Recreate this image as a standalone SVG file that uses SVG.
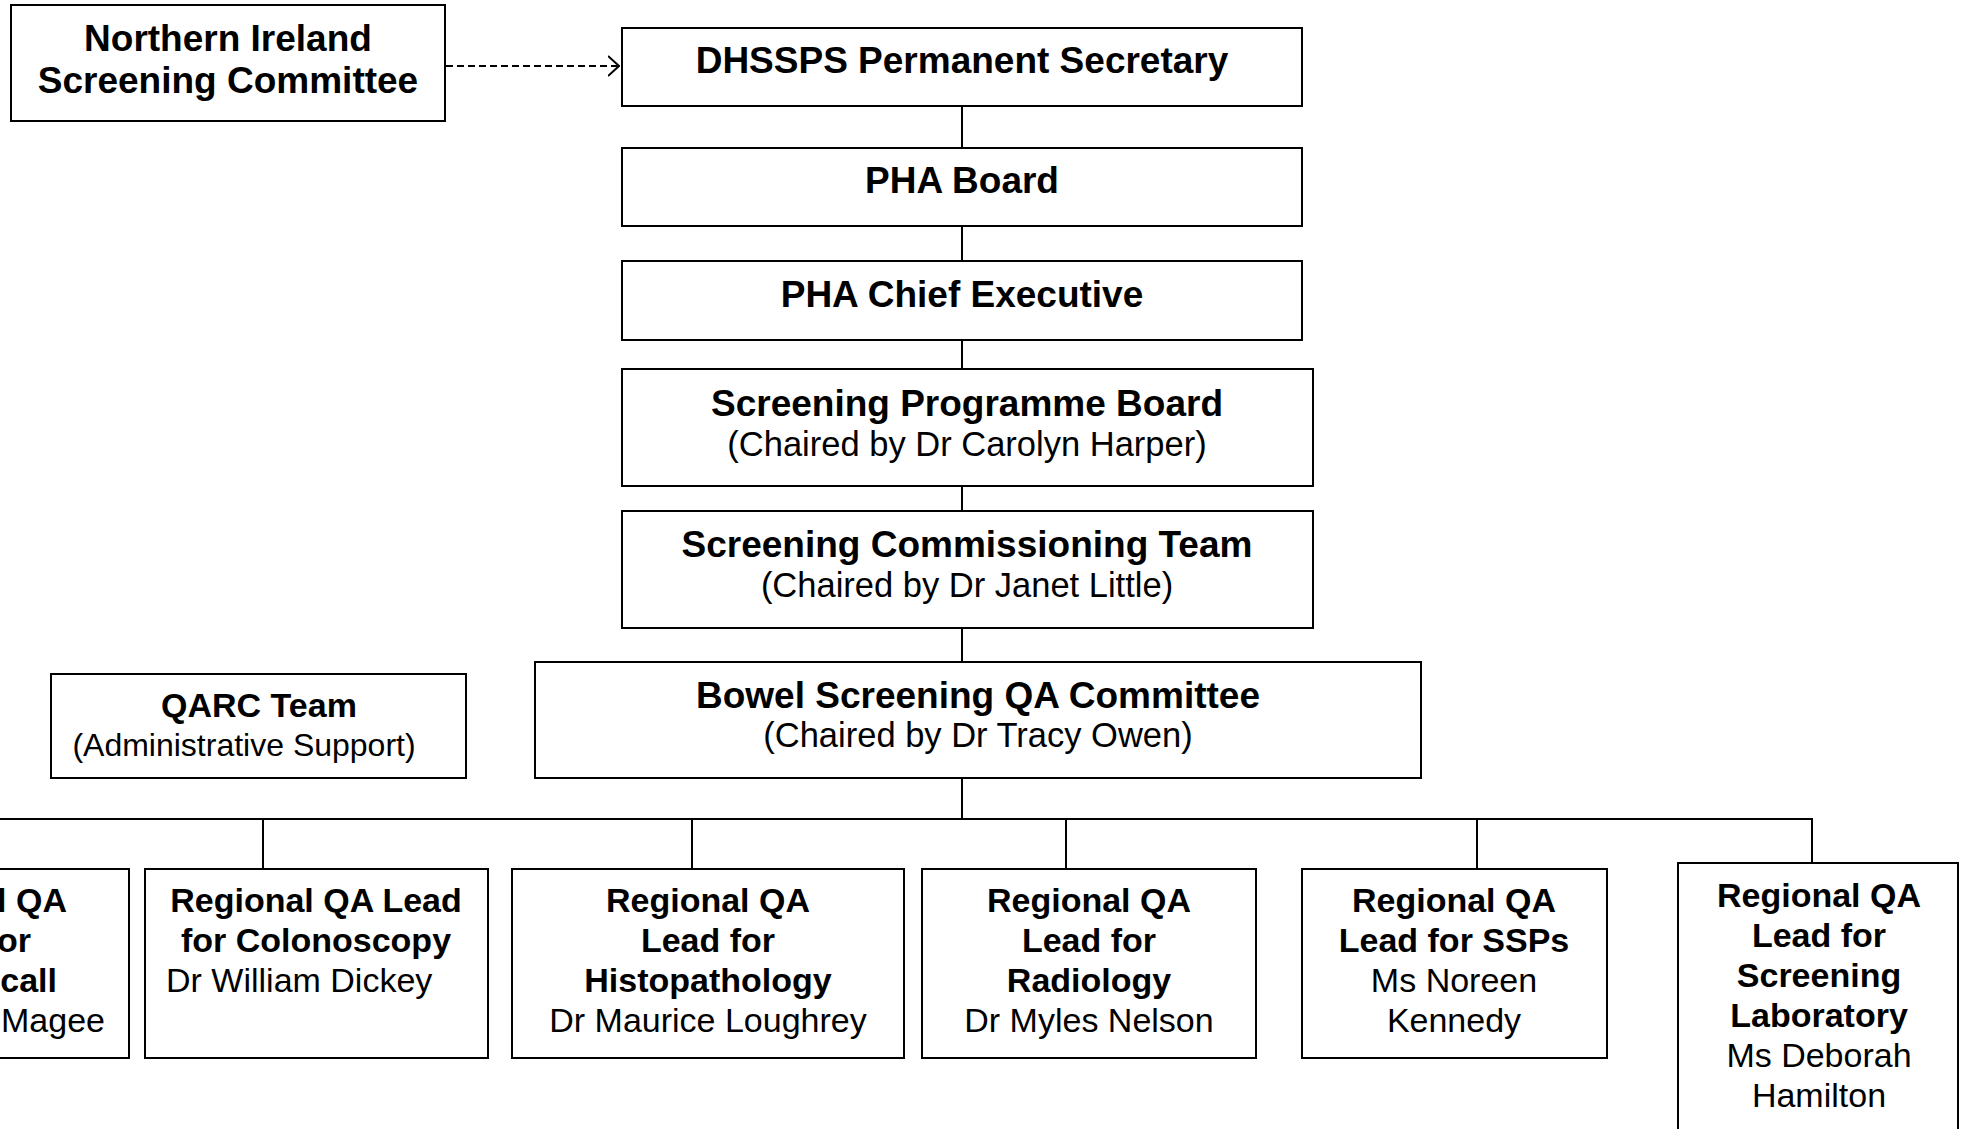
<svg xmlns="http://www.w3.org/2000/svg" width="1961" height="1129" viewBox="0 0 1961 1129">
<defs>
<style>
.box{fill:#fff;stroke:#000;stroke-width:2}
.b{font-family:"Liberation Sans",Arial,sans-serif;font-weight:bold;font-size:37px;text-anchor:middle;fill:#000}
.r{font-family:"Liberation Sans",Arial,sans-serif;font-size:34.5px;text-anchor:middle;fill:#000}
.bs{font-family:"Liberation Sans",Arial,sans-serif;font-weight:bold;font-size:34px;text-anchor:middle;fill:#000}
.rs{font-family:"Liberation Sans",Arial,sans-serif;font-size:34px;text-anchor:middle;fill:#000}
.end{text-anchor:end}
.ln{fill:none;stroke:#000;stroke-width:2}
</style>
<marker id="open" viewBox="0 0 12 22" refX="11" refY="11" markerWidth="12" markerHeight="22" markerUnits="userSpaceOnUse" orient="auto">
<path d="M0,1 L11,11 L0,21" fill="none" stroke="#000" stroke-width="2"/>
</marker>
</defs>
<rect width="1961" height="1129" fill="#fff"/>
<g id="connectors">
<path class="ln" d="M446,66 H619" stroke-dasharray="7,4" marker-end="url(#open)"/>
<path class="ln" d="M962,106 V148"/>
<path class="ln" d="M962,226 V261"/>
<path class="ln" d="M962,340 V369"/>
<path class="ln" d="M962,486 V511"/>
<path class="ln" d="M962,628 V662"/>
<path class="ln" d="M962,778 V819"/>
<path class="ln" d="M0,819 H1812 V863"/>
<path class="ln" d="M263,819 V869"/>
<path class="ln" d="M692,819 V869"/>
<path class="ln" d="M1066,819 V869"/>
<path class="ln" d="M1477,819 V869"/>
</g>
<g id="ni-committee">
<rect class="box" x="11" y="5" width="434" height="116"/>
<text class="b" x="228" y="51">Northern Ireland</text>
<text class="b" x="228" y="93">Screening Committee</text>
</g>
<g id="dhssps">
<rect class="box" x="622" y="28" width="680" height="78"/>
<text class="b" x="962" y="73">DHSSPS Permanent Secretary</text>
</g>
<g id="pha-board">
<rect class="box" x="622" y="148" width="680" height="78"/>
<text class="b" x="962" y="193">PHA Board</text>
</g>
<g id="pha-chief">
<rect class="box" x="622" y="261" width="680" height="79"/>
<text class="b" x="962" y="307">PHA Chief Executive</text>
</g>
<g id="programme-board">
<rect class="box" x="622" y="369" width="691" height="117"/>
<text class="b" x="967" y="416">Screening Programme Board</text>
<text class="r" x="967" y="456">(Chaired by Dr Carolyn Harper)</text>
</g>
<g id="commissioning-team">
<rect class="box" x="622" y="511" width="691" height="117"/>
<text class="b" x="967" y="557">Screening Commissioning Team</text>
<text class="r" x="967" y="597">(Chaired by Dr Janet Little)</text>
</g>
<g id="qarc">
<rect class="box" x="51" y="674" width="415" height="104"/>
<text class="bs" x="259" y="717">QARC Team</text>
<text class="rs" x="244" y="756" style="font-size:32px">(Administrative Support)</text>
</g>
<g id="bowel-qa-committee">
<rect class="box" x="535" y="662" width="886" height="116"/>
<text class="b" x="978" y="708">Bowel Screening QA Committee</text>
<text class="r" x="978" y="747">(Chaired by Dr Tracy Owen)</text>
</g>
<g id="lead-call-recall">
<rect class="box" x="-200" y="869" width="329" height="189"/>
<text class="bs end" x="67" y="912">l QA</text>
<text class="bs end" x="31" y="952">or</text>
<text class="bs end" x="57" y="992">call</text>
<text class="rs end" x="105" y="1032">Magee</text>
</g>
<g id="lead-colonoscopy">
<rect class="box" x="145" y="869" width="343" height="189"/>
<text class="bs" x="316" y="912">Regional QA Lead</text>
<text class="bs" x="316" y="952">for Colonoscopy</text>
<text class="rs" x="166" y="992" style="text-anchor:start">Dr William Dickey</text>
</g>
<g id="lead-histopathology">
<rect class="box" x="512" y="869" width="392" height="189"/>
<text class="bs" x="708" y="912">Regional QA</text>
<text class="bs" x="708" y="952">Lead for</text>
<text class="bs" x="708" y="992">Histopathology</text>
<text class="rs" x="708" y="1032">Dr Maurice Loughrey</text>
</g>
<g id="lead-radiology">
<rect class="box" x="922" y="869" width="334" height="189"/>
<text class="bs" x="1089" y="912">Regional QA</text>
<text class="bs" x="1089" y="952">Lead for</text>
<text class="bs" x="1089" y="992">Radiology</text>
<text class="rs" x="1089" y="1032">Dr Myles Nelson</text>
</g>
<g id="lead-ssps">
<rect class="box" x="1302" y="869" width="305" height="189"/>
<text class="bs" x="1454" y="912">Regional QA</text>
<text class="bs" x="1454" y="952">Lead for SSPs</text>
<text class="rs" x="1454" y="992">Ms Noreen</text>
<text class="rs" x="1454" y="1032">Kennedy</text>
</g>
<g id="lead-laboratory">
<rect class="box" x="1678" y="863" width="280" height="300"/>
<text class="bs" x="1819" y="907">Regional QA</text>
<text class="bs" x="1819" y="947">Lead for</text>
<text class="bs" x="1819" y="987">Screening</text>
<text class="bs" x="1819" y="1027">Laboratory</text>
<text class="rs" x="1819" y="1067">Ms Deborah</text>
<text class="rs" x="1819" y="1107">Hamilton</text>
</g>
</svg>
